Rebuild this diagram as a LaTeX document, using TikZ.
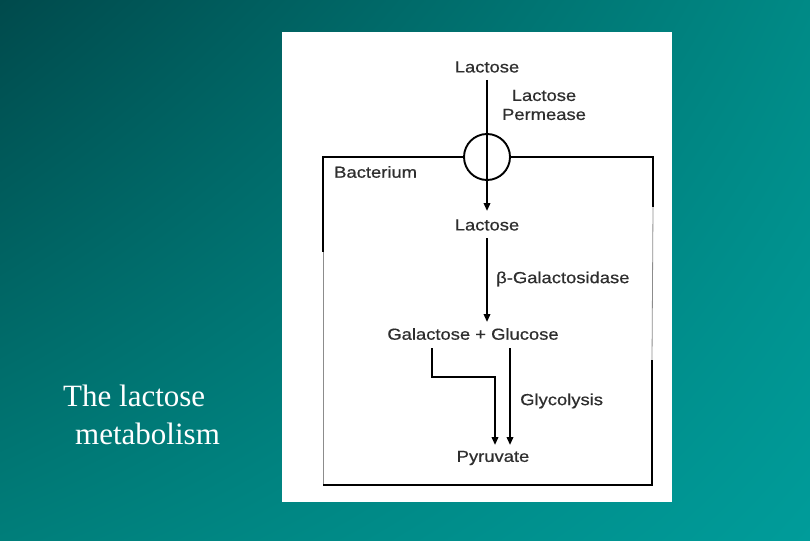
\documentclass[tikz,border=0pt]{standalone}
\usepackage{fontspec}
\setmainfont{Liberation Serif}
\newfontfamily\diagfont[FakeStretch=1.15,FakeBold=0.6]{Liberation Sans}
\usetikzlibrary{arrows.meta,shadings}
\definecolor{bgUL}{HTML}{004A4C}
\definecolor{bgUR}{HTML}{008A86}
\definecolor{bgLL}{HTML}{007E7A}
\definecolor{bgLR}{HTML}{009C9A}
\definecolor{ink}{HTML}{2E2E2E}
\tikzset{
  lbl/.style={font=\diagfont\fontsize{16}{18}\selectfont, text=ink, inner sep=0pt},
  flow/.style={draw=black, line width=1.9pt, -{Triangle[length=8pt,width=6.5pt]}},
  wall/.style={draw=black, line width=1.9pt},
  faint/.style={draw=black!45, line width=0.8pt},
  title/.style={font=\fontsize{31}{36}\selectfont, text=white, inner sep=0pt, anchor=base west}
}
\begin{document}
\begin{tikzpicture}[x=1pt,y=-1pt]
\useasboundingbox (0,0) rectangle (810,540);
\shade[upper left=bgUL, upper right=bgUR, lower left=bgLL, lower right=bgLR] (0,0) rectangle (810,540);
% white panel
\fill[white] (282,32) rectangle (672,502);
% bacterium box
\coordinate (tl) at (323,157);
\coordinate (tr) at (653,157);
\coordinate (rg1) at (653,207);
\coordinate (rg2) at (652,360);
\coordinate (br) at (652,485);
\coordinate (bl) at (323,485);
\coordinate (lg) at (323,252);
\node[draw=black, line width=1.9pt, circle, minimum size=46pt, inner sep=0pt] (perm) at (487,157) {};
\draw[wall] (perm.west) -- (tl) -- (lg);
\draw[faint] (lg) -- (bl);
\draw[wall] (perm.east) -- (tr) -- (rg1);
\draw[faint] (rg1) -- (rg2);
\draw[wall] (rg2) -- (br) -- (bl);
% texts
\node[lbl] (lac1) at (487,67) {Lactose};
\node[lbl, align=center] (lp) at (544,105) {Lactose\\[1pt]Permease};
\node[lbl, anchor=west] (bac) at (334,172) {Bacterium};
\node[lbl] (lac2) at (487,225) {Lactose};
\node[lbl, anchor=west] (bgal) at (496,279) {β-Galactosidase};
\node[lbl] (gg) at (473,334) {Galactose + Glucose};
\node[lbl, anchor=west] (gly) at (520,401) {Glycolysis};
\node[lbl] (pyr) at (493,458) {Pyruvate};
\coordinate (galstart) at (432,348);
\coordinate (glustart) at (510,348);
\coordinate (pyrL) at (495,445);
\coordinate (pyrR) at (510,445);
\coordinate (a1s) at (487,80);
\coordinate (a1e) at (487,211);
\coordinate (a2s) at (487,238);
\coordinate (a2e) at (487,322);
% arrows
\draw[flow] (a1s) -- (a1e);
\draw[flow] (a2s) -- (a2e);
\draw[flow] (galstart) |- (495,377) -- (pyrL);
\draw[flow] (glustart) -- (pyrR);
% title
\node[title] (t1) at (63,406) {The lactose};
\node[title] (t2) at (75,444) {metabolism};
\end{tikzpicture}
\end{document}
